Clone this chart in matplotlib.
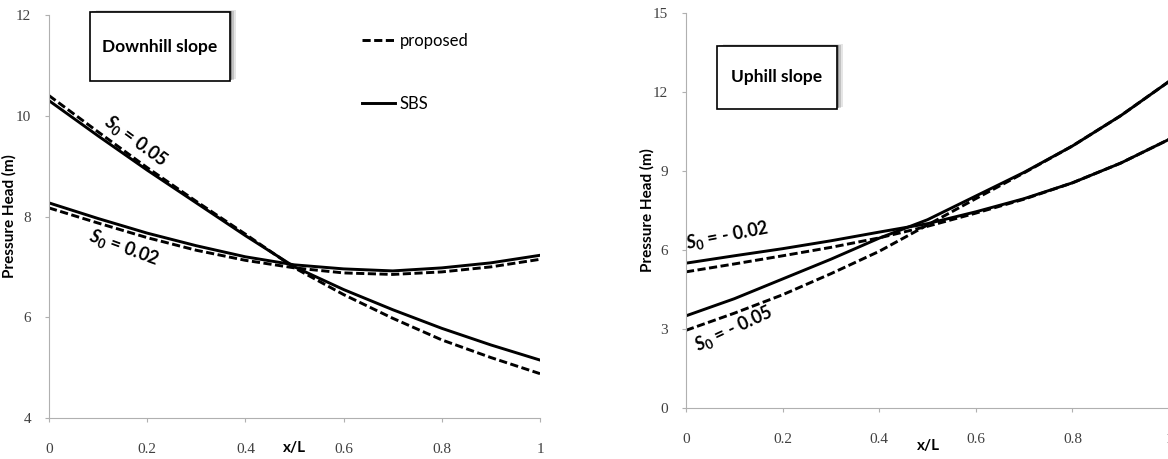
import matplotlib
matplotlib.use("Agg")
import matplotlib.pyplot as plt
from matplotlib.lines import Line2D
from matplotlib.patches import Rectangle

# x/L positions shared by every curve
x = [0.0, 0.1, 0.2, 0.3, 0.4, 0.5, 0.6, 0.7, 0.8, 0.9, 1.0]

# Downhill slope (left panel)
down_sbs_005 = [10.30, 9.60, 8.92, 8.27, 7.62, 7.00, 6.55, 6.15, 5.78, 5.45, 5.15]
down_prop_005 = [10.40, 9.68, 8.97, 8.30, 7.65, 6.98, 6.45, 5.98, 5.55, 5.20, 4.88]
down_sbs_002 = [8.27, 7.96, 7.67, 7.42, 7.20, 7.04, 6.96, 6.92, 6.98, 7.08, 7.23]
down_prop_002 = [8.17, 7.87, 7.58, 7.33, 7.13, 6.98, 6.88, 6.85, 6.90, 7.00, 7.15]

# Uphill slope (right panel)
up_sbs_002 = [5.50, 5.78, 6.05, 6.35, 6.68, 7.00, 7.45, 7.95, 8.55, 9.30, 10.20]
up_prop_002 = [5.17, 5.47, 5.78, 6.10, 6.46, 6.90, 7.40, 7.93, 8.55, 9.30, 10.20]
up_sbs_005 = [3.50, 4.15, 4.90, 5.65, 6.45, 7.15, 8.05, 8.95, 9.95, 11.10, 12.40]
up_prop_005 = [2.95, 3.60, 4.30, 5.10, 5.95, 6.95, 7.95, 8.93, 9.95, 11.10, 12.40]

x_ticks = [0, 0.2, 0.4, 0.6, 0.8, 1]
x_ticklabels = ["0", "0.2", "0.4", "0.6", "0.8", "1"]
down_yticks = [4, 6, 8, 10, 12]
up_yticks = [0, 3, 6, 9, 12, 15]

plt.rcParams["font.family"] = ["Lato", "DejaVu Sans"]
plt.rcParams["mathtext.fontset"] = "custom"
plt.rcParams["mathtext.it"] = "Lato:italic:bold"
plt.rcParams["mathtext.rm"] = "Lato:bold"

W, H = 1168, 459
fig = plt.figure(figsize=(W / 100, H / 100), dpi=100)

def px_axes(x0, x1, ytop, ybot):
    return fig.add_axes([x0 / W, 1 - ybot / H, (x1 - x0) / W, (ybot - ytop) / H])

ax1 = px_axes(49, 540, 15, 418)
ax2 = px_axes(686, 1169, 13, 408)

lw = 2.1
dash = (2.8, 1.2)

ax1.plot(x, down_sbs_005, color="black", lw=lw)
ax1.plot(x, down_prop_005, color="black", lw=lw, dashes=dash)
ax1.plot(x, down_sbs_002, color="black", lw=lw)
ax1.plot(x, down_prop_002, color="black", lw=lw, dashes=dash)

ax2.plot(x, up_sbs_002, color="black", lw=lw)
ax2.plot(x, up_prop_002, color="black", lw=lw, dashes=dash)
ax2.plot(x, up_sbs_005, color="black", lw=lw)
ax2.plot(x, up_prop_005, color="black", lw=lw, dashes=dash)

ax1.set_xlim(0, 1)
ax1.set_ylim(4, 12)
ax1.set_yticks(down_yticks)
ax2.set_xlim(0, 1)
ax2.set_ylim(0, 15)
ax2.set_yticks(up_yticks)

for ax in (ax1, ax2):
    ax.set_xticks(x_ticks)
    ax.set_xticklabels(x_ticklabels)
    for s in ("top", "right"):
        ax.spines[s].set_visible(False)
    for s in ("left", "bottom"):
        ax.spines[s].set_color("#b0b0b0")
        ax.spines[s].set_linewidth(0.8)
    ax.tick_params(axis="both", direction="out", length=3, width=0.8,
                   color="#b0b0b0", labelcolor="#404040", labelsize=11)
    ax.tick_params(axis="x", pad=15)
    ax.tick_params(axis="y", pad=10)
    for lab in ax.get_xticklabels() + ax.get_yticklabels():
        lab.set_family("Liberation Serif")
    ax.set_ylabel("Pressure Head (m)", fontsize=11, fontweight="bold")
    ax.set_xlabel("x/L", fontsize=11, fontweight="bold")

ax1.yaxis.set_label_coords(-0.067, 0.5)
ax2.yaxis.set_label_coords(-0.066, 0.5)
ax1.xaxis.set_label_coords(0.5, -0.058)
ax2.xaxis.set_label_coords(0.501, -0.078)

def title_box(ax, x0, y0, x1, y1, text):
    for k, a in enumerate([0.10, 0.15, 0.25]):
        off = 0.006 * (3 - k)
        ax.add_patch(Rectangle((x0 + off * 0.7, y0 + off * 0.3), x1 - x0, y1 - y0,
                               transform=ax.transAxes, facecolor="black",
                               edgecolor="none", alpha=a, clip_on=False, zorder=4))
    ax.add_patch(Rectangle((x0, y0), x1 - x0, y1 - y0, transform=ax.transAxes,
                           facecolor="white", edgecolor="black", lw=1.2,
                           clip_on=False, zorder=5))
    ax.text((x0 + x1) / 2, (y0 + y1) / 2, text, transform=ax.transAxes,
            ha="center", va="center", fontsize=12.5, fontweight="bold", zorder=6)

title_box(ax1, 0.0835, 0.836, 0.3686, 1.007, "Downhill slope")
title_box(ax2, 0.064, 0.757, 0.3126, 0.9165, "Uphill slope")

handles = [Line2D([], [], color="black", lw=lw, dashes=dash),
           Line2D([], [], color="black", lw=lw)]
ax1.legend(handles, ["proposed", "SBS"], loc="upper left",
           bbox_to_anchor=(0.6375, 0.955), frameon=False, fontsize=12,
           handlelength=2.0, handletextpad=0.25, labelspacing=2.8,
           borderpad=0, borderaxespad=0)

lab_kw = dict(fontsize=13, fontweight="bold", ha="center", va="center")
ax1.text(0.176, 9.5, r"$\mathit{S_0}$ = 0.05", rotation=-36, **lab_kw)
ax1.text(0.152, 7.38, r"$\mathit{S_0}$ = 0.02", rotation=-20, **lab_kw)
ax2.text(0.085, 6.55, r"$\mathit{S_0}$ = - 0.02", rotation=11, **lab_kw)
ax2.text(0.098, 3.0, r"$\mathit{S_0}$ = - 0.05", rotation=25, **lab_kw)

fig.savefig("out.png", dpi=100)
